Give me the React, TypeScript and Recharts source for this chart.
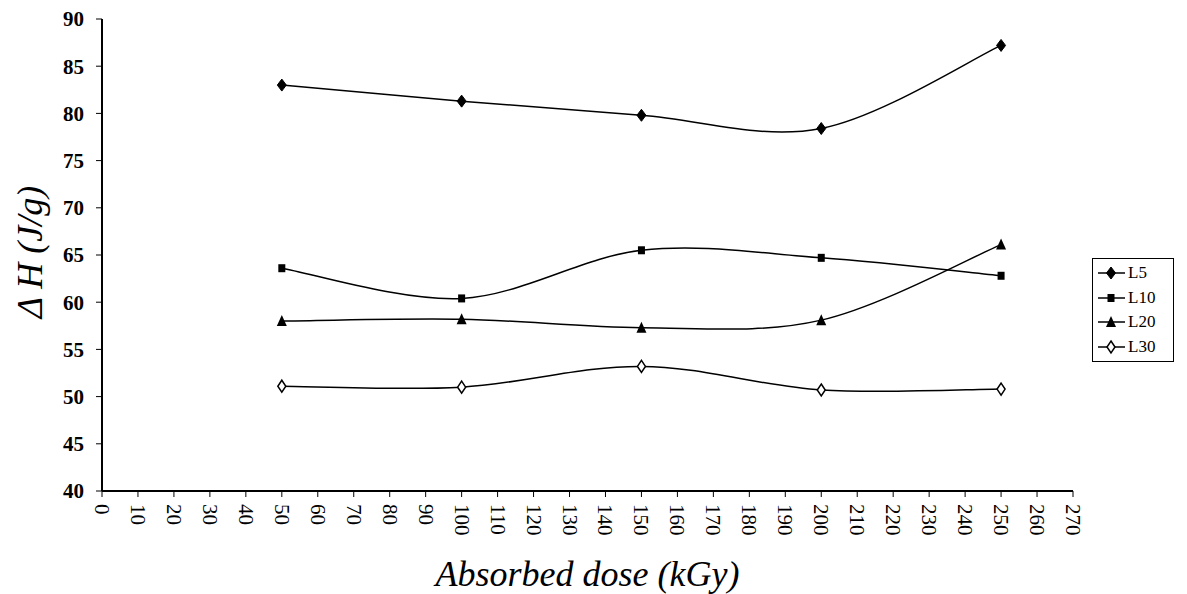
import React from "react"
import { LineChart, Line, XAxis, YAxis, Legend, Label } from "recharts"

const doses = [50, 100, 150, 200, 250]
const l5 = [83.0, 81.3, 79.8, 78.4, 87.2]
const l10 = [63.6, 60.4, 65.5, 64.7, 62.8]
const l20 = [58.0, 58.2, 57.3, 58.1, 66.1]
const l30 = [51.1, 51.0, 53.2, 50.7, 50.8]

const xTicks = Array.from({ length: 28 }, (_, i) => i * 10)
const yTicks = [40, 45, 50, 55, 60, 65, 70, 75, 80, 85, 90]

const data = doses.map((d, i) => ({ dose: d, L5: l5[i], L10: l10[i], L20: l20[i], L30: l30[i] }))

const serif = "'Times New Roman', 'Liberation Serif', serif"

// Excel-like smoothed line (uniform Catmull-Rom)
function smoothCurve(context: any) {
  let pts: number[][] = []
  return {
    areaStart() {},
    areaEnd() {},
    lineStart() {
      pts = []
    },
    point(x: number, y: number) {
      pts.push([+x, +y])
    },
    lineEnd() {
      if (!pts.length) return
      context.moveTo(pts[0][0], pts[0][1])
      for (let i = 0; i < pts.length - 1; i++) {
        const p0 = pts[i - 1] || pts[i]
        const p1 = pts[i]
        const p2 = pts[i + 1]
        const p3 = pts[i + 2] || p2
        context.bezierCurveTo(
          p1[0] + (p2[0] - p0[0]) / 6,
          p1[1] + (p2[1] - p0[1]) / 6,
          p2[0] - (p3[0] - p1[0]) / 6,
          p2[1] - (p3[1] - p1[1]) / 6,
          p2[0],
          p2[1]
        )
      }
    },
  }
}

function Marker({ kind, cx, cy }: { kind: string; cx: number; cy: number }) {
  if (kind === "L5")
    return <path d={`M${cx},${cy - 6}L${cx + 4.5},${cy}L${cx},${cy + 6}L${cx - 4.5},${cy}Z`} fill="#000" stroke="#000" />
  if (kind === "L10") return <rect x={cx - 3.5} y={cy - 4} width={7} height={8} fill="#000" />
  if (kind === "L20") return <path d={`M${cx},${cy - 6}L${cx + 5},${cy + 5}L${cx - 5},${cy + 5}Z`} fill="#000" />
  return (
    <path
      d={`M${cx},${cy - 6}L${cx + 4},${cy}L${cx},${cy + 6}L${cx - 4},${cy}Z`}
      fill="#fff"
      stroke="#000"
      strokeWidth={1.5}
    />
  )
}

const makeDot = (kind: string) => (props: any) =>
  <Marker key={`${kind}-${props.index}`} kind={kind} cx={props.cx} cy={props.cy} />

const XTick = (props: any) => {
  const { x, y, payload } = props
  return (
    <text
      x={x}
      y={y + 5}
      transform={`rotate(90, ${x}, ${y + 5})`}
      textAnchor="start"
      dominantBaseline="central"
      style={{ fontFamily: serif, fontSize: 21 }}
      fill="#000"
    >
      {payload.value}
    </text>
  )
}

const YTitle = () => (
  <text
    x={30}
    y={252}
    transform="rotate(-90, 30, 252)"
    textAnchor="middle"
    dominantBaseline="central"
    style={{ fontFamily: serif, fontStyle: "italic", fontSize: 36 }}
    fill="#000"
  >
    Δ H (J/g)
  </text>
)

const series = ["L5", "L10", "L20", "L30"]

const LegendBox = () => (
  <div
    style={{
      border: "1px solid #000",
      width: 82,
      boxSizing: "border-box",
      padding: "2px 0",
      background: "#fff",
      fontFamily: serif,
      fontSize: 17,
    }}
  >
    {series.map((s) => (
      <div key={s} style={{ display: "flex", alignItems: "center", height: 24.5 }}>
        <svg width={35} height={20}>
          <line x1={5} y1={10} x2={32} y2={10} stroke="#000" strokeWidth={1.5} />
          <Marker kind={s} cx={18} cy={10} />
        </svg>
        <span>{s}</span>
      </div>
    ))}
  </div>
)

export default function App() {
  return (
    <div style={{ position: "absolute", left: 0, top: 0, width: 1187, height: 594, background: "#fff" }}>
      <LineChart width={1187} height={594} data={data} margin={{ top: 19, right: 114, bottom: 0, left: 0 }}>
        <XAxis
          dataKey="dose"
          type="number"
          domain={[0, 270]}
          ticks={xTicks}
          interval={0}
          height={103}
          tick={<XTick />}
          tickSize={6}
          axisLine={{ stroke: "#000", strokeWidth: 2 }}
          tickLine={{ stroke: "#000" }}
        >
          <Label
            value="Absorbed dose (kGy)"
            position="insideBottom"
            offset={8}
            style={{ fontFamily: serif, fontStyle: "italic", fontSize: 36, fill: "#000" }}
          />
        </XAxis>
        <XAxis
          xAxisId="top"
          orientation="top"
          dataKey="dose"
          type="number"
          domain={[0, 270]}
          height={0}
          tick={false}
          tickLine={false}
          axisLine={{ stroke: "#444", strokeWidth: 1 }}
        />
        <YAxis
          domain={[40, 90]}
          ticks={yTicks}
          interval={0}
          width={102}
          tickSize={6}
          tickMargin={12}
          axisLine={{ stroke: "#000", strokeWidth: 2 }}
          tickLine={{ stroke: "#000" }}
          tick={{ fontFamily: serif, fontWeight: "bold", fontSize: 21, fill: "#000" }}
        >
          <Label content={<YTitle />} />
        </YAxis>
        <YAxis
          yAxisId="right"
          orientation="right"
          domain={[40, 90]}
          width={0}
          tick={false}
          tickLine={false}
          axisLine={{ stroke: "#444", strokeWidth: 1 }}
        />
        <Legend
          layout="vertical"
          align="center"
          verticalAlign="middle"
          content={<LegendBox />}
          wrapperStyle={{ left: 1092, top: 258, width: 82 }}
        />
        {series.map((s) => (
          <Line
            key={s}
            dataKey={s}
            type={smoothCurve as any}
            stroke="#000"
            strokeWidth={1.5}
            dot={makeDot(s)}
            activeDot={false}
            isAnimationActive={false}
          />
        ))}
      </LineChart>
    </div>
  )
}
